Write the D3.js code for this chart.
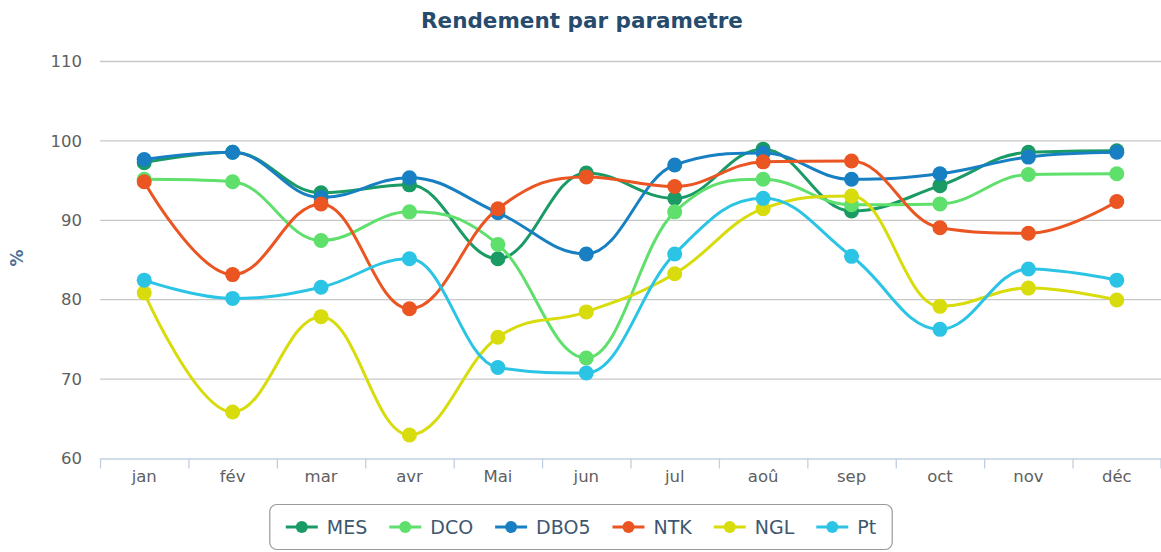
<!DOCTYPE html>
<html><head><meta charset="utf-8">
<script src="https://cdn.jsdelivr.net/npm/d3@7"></script>
<style>html,body{margin:0;padding:0;background:#fff;}svg{display:block;}</style>
</head><body>
<svg id="c" width="1161" height="552"></svg>
<script>
const months = ["jan","fév","mar","avr","Mai","jun","jul","aoû","sep","oct","nov","déc"];
const seriesNames = ["MES","DCO","DBO5","NTK","NGL","Pt"];
const colors = ["#1a9a64","#5fe06c","#1880c2","#ea5522","#d8dc0c","#2cc4e4"];
const MES  = [97.2, 98.5, 93.4, 94.4, 85.1, 95.9, 92.7, 98.9, 91.1, 94.3, 98.5, 98.7];
const DCO  = [95.1, 94.8, 87.4, 91.0, 86.9, 72.6, 91.0, 95.1, 91.9, 92.0, 95.7, 95.8];
const DBO5 = [97.6, 98.5, 92.8, 95.3, 90.9, 85.7, 96.9, 98.4, 95.1, 95.8, 97.9, 98.5];
const NTK  = [94.8, 83.1, 92.0, 78.8, 91.4, 95.4, 94.2, 97.3, 97.4, 89.0, 88.3, 92.3];
const NGL  = [80.8, 65.8, 77.8, 62.9, 75.2, 78.4, 83.2, 91.4, 93.0, 79.1, 81.4, 79.9];
const Pt   = [82.4, 80.1, 81.5, 85.1, 71.4, 70.7, 85.7, 92.7, 85.4, 76.2, 83.8, 82.4];
const seriesValues = [MES, DCO, DBO5, NTK, NGL, Pt];
const yTicks = [60, 70, 80, 90, 100, 110];
const titleText = "Rendement par parametre";
const yTitle = "%";

const svg = d3.select("#c");
const L = 100, R = 1161, T = 61, B = 458;
const x = d3.scaleBand().domain(months).range([L, R]);
const y = d3.scaleLinear().domain([60, 110]).range([B, T]);
const font = "'DejaVu Sans', sans-serif";

svg.append("text").attr("x", 582).attr("y", 28).attr("text-anchor", "middle")
  .attr("font-family", font).attr("font-weight", "bold").attr("font-size", 21.5)
  .attr("fill", "#274b6d").text(titleText);

// gridlines
svg.append("g").selectAll("line").data(yTicks.filter(d => d !== 60)).join("line")
  .attr("x1", L).attr("x2", R).attr("y1", d => y(d) + 0.5).attr("y2", d => y(d) + 0.5)
  .attr("stroke", "#c8c8c8").attr("stroke-width", 1.3);

// y axis labels
const yAxis = d3.axisLeft(y).tickValues(yTicks).tickSize(0).tickPadding(18);
const gy = svg.append("g").attr("transform", `translate(${L},0)`).call(yAxis);
gy.select(".domain").remove();
gy.selectAll("text").attr("font-family", font).attr("font-size", 16.5).attr("fill", "#606060").attr("dy", "0.35em");

// x axis
const xAxis = d3.axisBottom(x).tickSize(0).tickPadding(12);
const gx = svg.append("g").attr("transform", `translate(0,${B + 0.5})`).call(xAxis);
gx.select(".domain").attr("stroke", "#c0d0e0").attr("stroke-width", 1.3);
gx.selectAll("text").attr("font-family", font).attr("font-size", 16.5).attr("fill", "#606060");
const bounds = months.map(m => x(m)).concat([R - 0.5]);
gx.append("g").selectAll("line").data(bounds).join("line")
  .attr("x1", d => d + 0.5).attr("x2", d => d + 0.5).attr("y1", 0).attr("y2", 10)
  .attr("stroke", "#c0d0e0").attr("stroke-width", 1.3);

svg.append("text").attr("transform", `translate(23,258) rotate(-90)`)
  .attr("text-anchor", "middle").attr("font-family", font).attr("font-weight", "bold")
  .attr("font-size", 17).attr("fill", "#4d7198").text(yTitle);

// Highcharts-like spline
function splinePath(pts) {
  const p = d3.path();
  const sm = 1.5, den = sm + 1;
  const cont = pts.map((pt, i) => {
    if (i === 0 || i === pts.length - 1) return null;
    const [lx, ly] = pts[i - 1], [nx, ny] = pts[i + 1], [px, py] = pt;
    let lcx = (sm * px + lx) / den, lcy = (sm * py + ly) / den;
    let rcx = (sm * px + nx) / den, rcy = (sm * py + ny) / den;
    const corr = ((rcy - lcy) * (rcx - px)) / (rcx - lcx) + py - rcy;
    lcy += corr; rcy += corr;
    if (lcy > ly && lcy > py) { lcy = Math.max(ly, py); rcy = 2 * py - lcy; }
    else if (lcy < ly && lcy < py) { lcy = Math.min(ly, py); rcy = 2 * py - lcy; }
    if (rcy > ny && rcy > py) { rcy = Math.max(ny, py); lcy = 2 * py - rcy; }
    else if (rcy < ny && rcy < py) { rcy = Math.min(ny, py); lcy = 2 * py - rcy; }
    return { lcx, lcy, rcx, rcy };
  });
  pts.forEach((pt, i) => {
    if (i === 0) { p.moveTo(pt[0], pt[1]); return; }
    const prev = pts[i - 1], pc = cont[i - 1], c = cont[i];
    p.bezierCurveTo(pc ? pc.rcx : prev[0], pc ? pc.rcy : prev[1],
                    c ? c.lcx : pt[0], c ? c.lcy : pt[1], pt[0], pt[1]);
  });
  return p.toString();
}

const cx = m => x(m) + x.bandwidth() / 2;
seriesValues.forEach((vals, si) => {
  const pts = vals.map((v, i) => [cx(months[i]), y(v)]);
  const g = svg.append("g");
  g.append("path").attr("d", splinePath(pts)).attr("fill", "none")
    .attr("stroke", colors[si]).attr("stroke-width", 3);
  g.selectAll("circle").data(pts).join("circle")
    .attr("cx", d => d[0]).attr("cy", d => d[1]).attr("r", 7.5).attr("fill", colors[si]);
});

// legend
const lg = svg.append("g");
const box = lg.append("rect");
let xpos = 0;
seriesNames.forEach((name, i) => {
  const it = lg.append("g").attr("transform", `translate(${xpos},0)`);
  it.append("line").attr("x1", 0).attr("x2", 32).attr("y1", 0).attr("y2", 0)
    .attr("stroke", colors[i]).attr("stroke-width", 3);
  it.append("circle").attr("cx", 16).attr("cy", 0).attr("r", 6).attr("fill", colors[i]);
  const t = it.append("text").attr("x", 41).attr("y", 0).attr("dy", "0.36em")
    .attr("font-family", font).attr("font-size", 19).attr("fill", "#3e576f").text(name);
  const w = t.node().getComputedTextLength();
  xpos += 41 + w + 22;
});
const totalW = xpos - 22;
const lx0 = 581 - totalW / 2;
lg.attr("transform", `translate(${lx0},527)`);
box.attr("x", -16).attr("y", -22.5).attr("width", totalW + 32).attr("height", 45)
  .attr("rx", 7).attr("fill", "#fff").attr("stroke", "#9a9a9a").attr("stroke-width", 1.2);
</script>
</body></html>
